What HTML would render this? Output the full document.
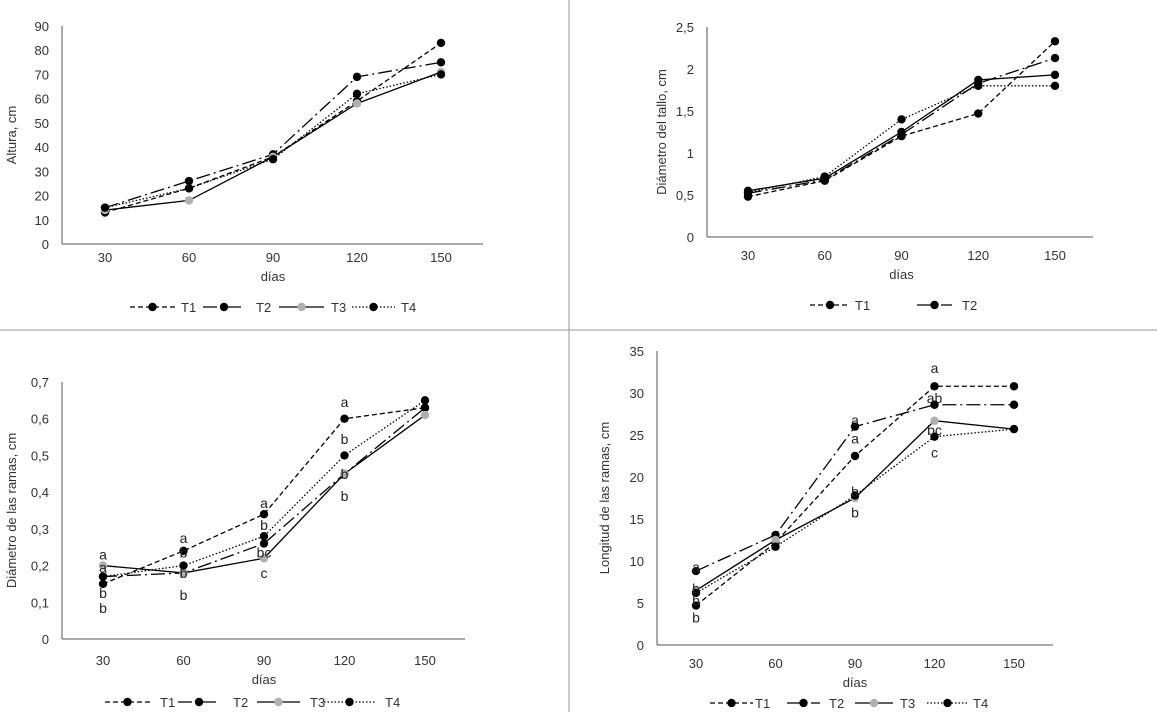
<!DOCTYPE html>
<html><head><meta charset="utf-8"><style>
body{margin:0;background:#fff;width:1157px;height:712px;overflow:hidden}
svg{display:block;font-family:"Liberation Sans",sans-serif}
</style></head><body>
<svg id="s" width="1157" height="712">
<line x1="569" y1="0" x2="569" y2="712" stroke="#999"/>
<line x1="0" y1="330" x2="1157" y2="330" stroke="#999"/>
</svg>
<script>
const days=[30,60,90,120,150];
// Panel A: Altura
const altT1=[13,23,36,59,83];
const altT2=[15,26,37,69,75];
const altT3=[14,18,36,58,71];
const altT4=[15,23,35,62,70];
const altTicks=[0,10,20,30,40,50,60,70,80,90];
// Panel B: Diametro del tallo
const dtT1=[0.48,0.67,1.2,1.47,2.33];
const dtT2=[0.52,0.68,1.22,1.83,2.13];
const dtT3=[0.55,0.7,1.25,1.87,1.93];
const dtT4=[0.53,0.72,1.4,1.8,1.8];
const dtTicks=[0,0.5,1,1.5,2,2.5];
// Panel C: Diametro de las ramas
const drT1=[0.15,0.24,0.34,0.60,0.63];
const drT2=[0.17,0.18,0.26,0.45,0.63];
const drT3=[0.20,0.18,0.22,0.45,0.61];
const drT4=[0.17,0.20,0.28,0.50,0.65];
const drTicks=[0,0.1,0.2,0.3,0.4,0.5,0.6,0.7];
const drLetters=[[30,0.23,'a'],[30,0.195,'a'],[30,0.125,'b'],[30,0.085,'b'],[60,0.275,'a'],[60,0.235,'b'],[60,0.18,'b'],[60,0.12,'b'],[90,0.37,'a'],[90,0.31,'b'],[90,0.235,'bc'],[90,0.18,'c'],[120,0.645,'a'],[120,0.545,'b'],[120,0.45,'b'],[120,0.39,'b']];
// Panel D: Longitud de las ramas
const lrT1=[4.7,12.2,22.5,30.8,30.8];
const lrT2=[8.8,13.1,26,28.6,28.6];
const lrT3=[6.5,12.5,17.5,26.7,25.7];
const lrT4=[6.2,11.7,17.8,24.8,25.7];
const lrTicks=[0,5,10,15,20,25,30,35];
const lrLetters=[[30,9.3,'a'],[30,6.7,'b'],[30,5.3,'b'],[30,3.3,'b'],[90,26.8,'a'],[90,24.6,'a'],[90,18.3,'b'],[90,15.8,'b'],[120,33,'a'],[120,29.4,'ab'],[120,25.6,'bc'],[120,22.9,'c']];

const S=document.getElementById('s');const NS='http://www.w3.org/2000/svg';
function mk(t,a,p){const e=document.createElementNS(NS,t);for(const k in a)e.setAttribute(k,a[k]);(p||S).appendChild(e);return e;}
const styles=[{d:'5,3',m:'#000'},{d:'14,4,2,4',m:'#000'},{d:'',m:'#b0b0b0'},{d:'1.5,2',m:'#000'}];
function chart(o){
  const g=mk('g',{});
  
  
  const x=v=>o.x0+(v-30)/120*(o.x1-o.x0);
  const y=v=>o.yb-(v/o.ymax)*(o.yb-o.yt);
  mk('line',{x1:o.ax,y1:o.yt,x2:o.ax,y2:o.yb,stroke:'#555'},g);
  mk('line',{x1:o.ax,y1:o.yb,x2:o.axEnd,y2:o.yb,stroke:'#555'},g);
  o.ticks.forEach(t=>{const e=mk('text',{x:o.ax-13,y:y(t)+5,'text-anchor':'end','font-size':13,fill:'#333'},g);e.textContent=String(t).replace('.',',');
    
    });
  days.forEach(d=>{const e=mk('text',{x:x(d),y:o.tl,'text-anchor':'middle','font-size':13,fill:'#333'},g);e.textContent=d;
    
    });
  let e=mk('text',{x:(o.x0+o.x1)/2,y:o.tl+19,'text-anchor':'middle','font-size':13,fill:'#333'},g);e.textContent='días';
  
  
  const cy=(o.yt+o.yb)/2;
  e=mk('text',{x:o.ylx,y:cy,'text-anchor':'middle','font-size':13,fill:'#333',transform:`rotate(-90 ${o.ylx} ${cy})`},g);e.textContent=o.ylabel;
  
  
  o.series.forEach((s,i)=>{const st=styles[i];
    const pl=mk('polyline',{points:s.map((v,j)=>x(days[j])+','+y(v)).join(' '),fill:'none',stroke:'#000','stroke-width':1.3,'stroke-dasharray':st.d},g);
    
    
    s.forEach((v,j)=>{const c=mk('circle',{cx:x(days[j]),cy:y(v),r:4.2,fill:o.allBlack?'#000':st.m},g);
      
      });
  });
  (o.letters||[]).forEach(l=>{const t=mk('text',{x:x(l[0]),y:y(l[1])+5,'text-anchor':'middle','font-size':14,fill:'#222'},g);t.textContent=l[2];
    
    });
  o.legend.forEach((L,i)=>{const st=styles[L[3]];const lg=mk('g',{},g);
    
    
    mk('line',{x1:L[0],y1:o.ly,x2:L[1],y2:o.ly,stroke:'#000','stroke-width':1.3,'stroke-dasharray':st.d},lg);
    mk('circle',{cx:(L[0]+L[1])/2,cy:o.ly,r:4.2,fill:o.allBlack?'#000':st.m},lg);
    const t=mk('text',{x:L[2],y:o.ly+5,'font-size':13,fill:'#333'},lg);t.textContent='T'+(L[3]+1);});
}
chart({name:'chart-altura',ax:62,axEnd:483,yt:26,yb:244,ymax:90,x0:105,x1:441,tl:262,ylx:16,ylabel:'Altura, cm',ticks:altTicks,series:[altT1,altT2,altT3,altT4],ly:307,
  legend:[[130,175,181,0],[203,245,256,1],[279,324,331,2],[352,395,401,3]]});
chart({name:'chart-diametro-tallo',ax:707,axEnd:1093,yt:27,yb:237,ymax:2.5,x0:748,x1:1055,tl:260,ylx:666,ylabel:'Diámetro del tallo, cm',ticks:dtTicks,series:[dtT1,dtT2,dtT3,dtT4],ly:305,allBlack:true,
  legend:[[810,850,855,0],[917,952,962,1]]});
chart({name:'chart-diametro-ramas',ax:62,axEnd:465,yt:382,yb:639,ymax:0.7,x0:103,x1:425,tl:665,ylx:16,ylabel:'Diámetro de las ramas, cm',ticks:drTicks,series:[drT1,drT2,drT3,drT4],ly:702,letters:drLetters,
  legend:[[105,150,160,0],[178,220,233,1],[257,300,310,2],[324,375,385,3]]});
chart({name:'chart-longitud-ramas',ax:657,axEnd:1053,yt:351,yb:645,ymax:35,x0:696,x1:1014,tl:668,ylx:609,ylabel:'Longitud de las ramas, cm',ticks:lrTicks,series:[lrT1,lrT2,lrT3,lrT4],ly:703,letters:lrLetters,
  legend:[[710,753,755,0],[787,820,829,1],[855,893,900,2],[927,968,973,3]]});
</script>
</body></html>
